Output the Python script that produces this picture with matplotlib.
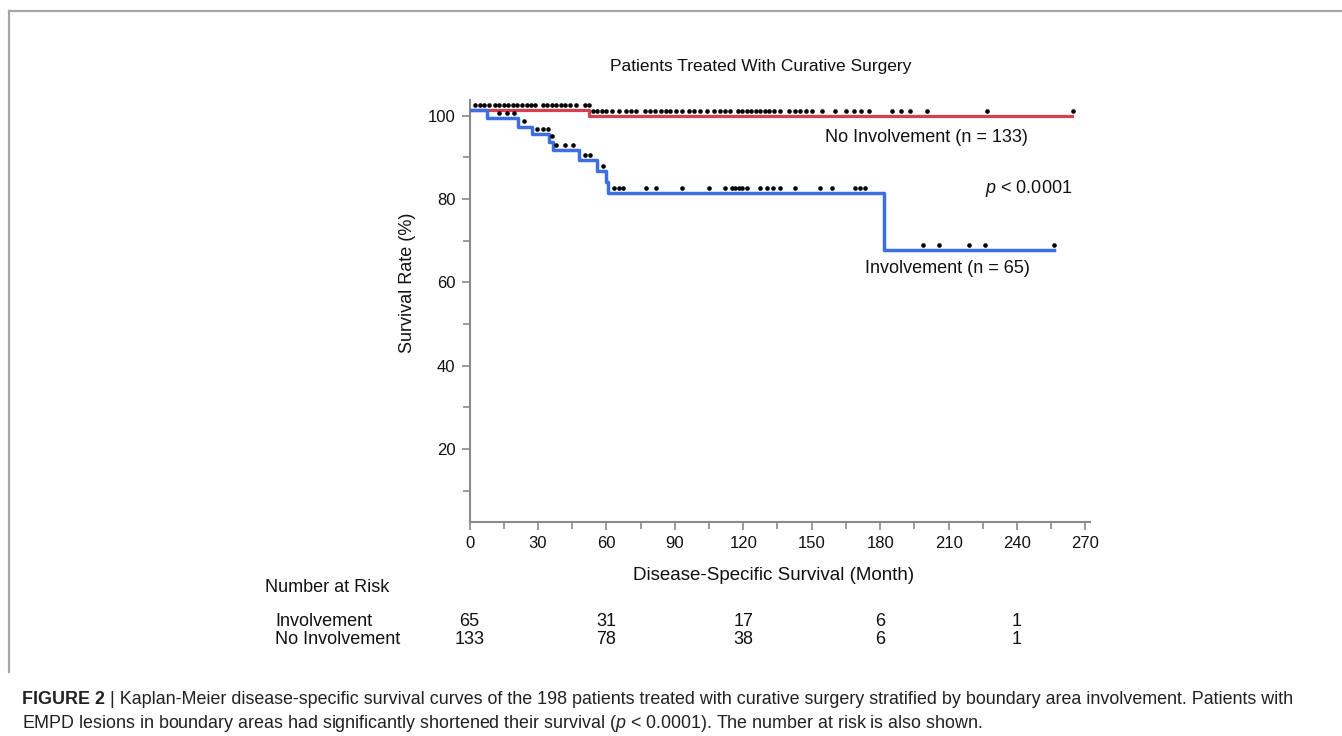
import numpy as np
import matplotlib
matplotlib.use("Agg")
import matplotlib.pyplot as plt
from matplotlib.lines import Line2D

plt.rcParams['font.family'] = ['Liberation Sans', 'DejaVu Sans']
plt.rcParams['mathtext.fontset'] = 'custom'
plt.rcParams['mathtext.rm'] = 'Liberation Sans'
plt.rcParams['mathtext.it'] = 'Liberation Sans:italic'

# Kaplan-Meier step curves (months, survival %)
inv_times = [0, 7.5, 21.1, 27.3, 35.0, 36.5, 48.2, 55.8, 59.7, 60.6, 181.5, 256.0]
inv_surv = [101.3, 99.4, 97.4, 95.6, 93.8, 91.8, 89.4, 86.7, 84.0, 81.5, 67.8, 67.8]
noinv_times = [0, 52.5, 264.0]
noinv_surv = [101.3, 100.0, 100.0]

# censored observations (months)
inv_censor = [13, 16.3, 19.5, 24, 29.5, 32, 34.5, 36.0, 38, 42, 45.5, 50.7, 52.8, 58.7,
              63.4, 65.5, 67.5, 77.4, 81.8, 93, 105.2, 112, 115, 116.5, 118, 119.5, 121.5,
              127.4, 130.3, 133.2, 136.2, 142.8, 153.7, 158.9, 169, 171, 173.5,
              198.6, 205.6, 218.8, 226.1, 256.4]
noinv_censor = [2.5, 4.5, 6.5, 8.5, 11, 13, 15, 17, 19, 21, 23, 25, 27, 28.8,
                32, 34, 36, 38, 40, 42, 44, 46.5, 50.5, 52.2,
                54, 56, 58, 60, 62.5, 65.7, 68.5, 70.8, 73, 77, 79, 81.5, 84, 86, 88, 90.5,
                93, 96, 98.5, 101, 104, 107, 110, 112, 114, 117.5, 119.5, 121.5, 123.5,
                125.5, 127.5, 129.5, 131.5, 133.5, 136, 140, 142.5, 145, 147.5, 150,
                154.5, 160, 165, 168.5, 171.5, 175, 185, 189, 193, 200.5, 227, 264.5]

# number at risk table
risk_times = [0, 60, 120, 180, 240]
risk_inv = [65, 31, 17, 6, 1]
risk_noinv = [133, 78, 38, 6, 1]

W, H = 1342, 736
def fx(x):
    return x / W
def fy(y):
    return 1 - y / H

def surv_at(times, surv, t):
    idx = np.searchsorted(times, t, side='right') - 1
    return np.array(surv)[idx]

fig = plt.figure(figsize=(W / 100, H / 100), dpi=100)
ax = fig.add_axes([fx(469.5), fy(521.7), (1090 - 469.5) / W, (521.7 - 100) / H])

red = '#d7404f'
blue = '#3d6fe0'
ax.step(noinv_times, noinv_surv, where='post', color=red, lw=2.3, zorder=2)
ax.step(inv_times, inv_surv, where='post', color=blue, lw=2.5, zorder=3)

off = 1.25
ax.plot(noinv_censor, surv_at(noinv_times, noinv_surv, noinv_censor) + off, 'o',
        color='black', ms=3.3, mew=0, zorder=4, clip_on=False)
ax.plot(inv_censor, surv_at(inv_times, inv_surv, inv_censor) + off, 'o',
        color='black', ms=3.3, mew=0, zorder=4, clip_on=False)

ax.set_xlim(0, 272)
ax.set_ylim(2.55, 103.8)
ax.set_xticks(range(0, 271, 30))
ax.set_xticks(range(15, 271, 30), minor=True)
ax.set_yticks([20, 40, 60, 80, 100])
ax.set_yticks([10, 30, 50, 70, 90], minor=True)
for s in ['top', 'right']:
    ax.spines[s].set_visible(False)
for s in ['left', 'bottom']:
    ax.spines[s].set_color('#8a8a8a')
    ax.spines[s].set_linewidth(1.5)
ax.tick_params(which='major', length=6, width=1.2, color='#8a8a8a', labelsize=12,
               labelcolor='#111111', pad=4)
ax.tick_params(which='minor', length=5, width=1.2, color='#8a8a8a')

tc = '#111111'
ax.text(156, 94.9, 'No Involvement (n = 133)', fontsize=13, color=tc, ha='left', va='center')
ax.text(226, 82.6, '$p$ < 0.0001', fontsize=13, color=tc, ha='left', va='center')
ax.text(173.4, 63.4, 'Involvement (n = 65)', fontsize=13, color=tc, ha='left', va='center')

fig.text(fx(761), fy(67), 'Patients Treated With Curative Surgery', fontsize=12.5,
         color=tc, ha='center', va='center')
fig.text(fx(408), fy(283), 'Survival Rate (%)', fontsize=13, rotation=90,
         color=tc, ha='center', va='center')
fig.text(fx(774), fy(576), 'Disease-Specific Survival (Month)', fontsize=13.5,
         color=tc, ha='center', va='center')

# number at risk
fig.text(fx(265), fy(588), 'Number at Risk', fontsize=13, color=tc, ha='left', va='center')
fig.text(fx(275), fy(621), 'Involvement', fontsize=13, color=tc, ha='left', va='center')
fig.text(fx(275), fy(640), 'No Involvement', fontsize=13, color=tc, ha='left', va='center')
xt = ax.get_xaxis_transform()
row1 = (521.7 - 621) / (521.7 - 100)
row2 = (521.7 - 640) / (521.7 - 100)
for t, a, b in zip(risk_times, risk_inv, risk_noinv):
    ax.text(t, row1, str(a), transform=xt, fontsize=13, color=tc, ha='center', va='center', clip_on=False)
    ax.text(t, row2, str(b), transform=xt, fontsize=13, color=tc, ha='center', va='center', clip_on=False)

# frame lines
fig.add_artist(Line2D([fx(9), 1], [fy(11), fy(11)], color='#a5a5a5', lw=1.6))
fig.add_artist(Line2D([fx(9), fx(9)], [fy(11), fy(672)], color='#a5a5a5', lw=1.6))

# caption
cc = '#222222'
cfs = 12.9
lab = fig.text(fx(22), fy(700), 'FIGURE 2', fontsize=cfs, fontweight='bold',
               color=cc, ha='left', va='center')
renderer = fig.canvas.get_renderer()
bb = lab.get_window_extent(renderer)
fig.text((bb.x1 + 5) / W, fy(700), '| Kaplan-Meier disease-specific survival curves of the 198 patients '
         'treated with curative surgery stratified by boundary area involvement. Patients with',
         fontsize=cfs, color=cc, ha='left', va='center')
fig.text(fx(22), fy(723), 'EMPD lesions in boundary areas had significantly shortened their survival '
         '($p$ < 0.0001). The number at risk is also shown.',
         fontsize=cfs, color=cc, ha='left', va='center')

fig.savefig('out.png', dpi=100)
